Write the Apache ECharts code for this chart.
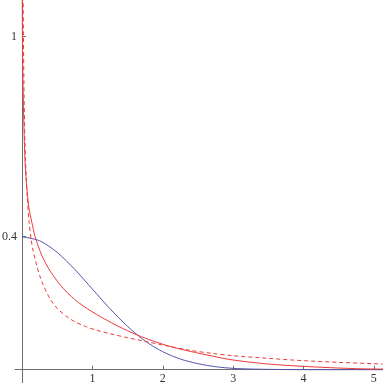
<!DOCTYPE html>
<html>
<head>
<meta charset="utf-8">
<script src="https://cdn.jsdelivr.net/npm/echarts@6/dist/echarts.min.js"></script>
<style>html,body{margin:0;padding:0;background:#fff;}#c{width:383px;height:383px;}</style>
</head>
<body>
<div id="c"></div>
<script>
// Tick labels
var xTicks = [1, 2, 3, 4, 5];
var yTicks = [0.4, 1];

// Blue curve
var blueX = [0, 0.25, 0.5, 0.75, 1, 1.25, 1.5, 1.75, 2, 2.25, 2.5, 2.75, 3, 3.25, 3.5, 4, 4.5, 5, 5.13];
var blueY = [0.399, 0.387, 0.352, 0.301, 0.242, 0.183, 0.130, 0.086, 0.054, 0.032, 0.018, 0.009, 0.004, 0.002, 0.001, 0.0, 0.0, 0.0, 0.0];

// Red solid curve
var redX = [0.002, 0.005, 0.01, 0.02, 0.035, 0.05, 0.075, 0.1, 0.14, 0.185, 0.23, 0.28, 0.34, 0.4, 0.5, 0.59, 0.7, 0.8, 0.93, 1.06, 1.2, 1.35, 1.5, 1.65, 1.85, 2.1, 2.39, 2.7, 3.0, 3.5, 4.0, 4.5, 5.0, 5.13];
var redY = [1.2, 1.03, 0.91, 0.79, 0.67, 0.595, 0.53, 0.483, 0.442, 0.40, 0.371, 0.344, 0.318, 0.296, 0.266, 0.243, 0.220, 0.202, 0.183, 0.166, 0.149, 0.132, 0.117, 0.103, 0.087, 0.070, 0.055, 0.041, 0.029, 0.017, 0.010, 0.005, 0.002, 0.002];

// Red dashed curve
var dashX = [0.008, 0.012, 0.02, 0.03, 0.04, 0.055, 0.075, 0.1, 0.13, 0.16, 0.2, 0.25, 0.3, 0.4, 0.5, 0.62, 0.75, 0.9, 1.05, 1.25, 1.5, 1.75, 2.0, 2.39, 2.7, 3.0, 3.5, 4.0, 4.5, 5.0, 5.13];
var dashY = [1.5, 1.28, 1.0, 0.81, 0.70, 0.60, 0.515, 0.445, 0.39, 0.355, 0.32, 0.283, 0.255, 0.212, 0.184, 0.162, 0.144, 0.13, 0.119, 0.108, 0.096, 0.085, 0.074, 0.058, 0.049, 0.042, 0.034, 0.027, 0.022, 0.018, 0.017];

function pairs(xs, ys) { return xs.map(function (x, i) { return [x, ys[i]]; }); }

var axisColor = '#6e6e6e';
var labelFont = {color: '#333', fontFamily: 'Liberation Serif', fontSize: 12};
var chart = echarts.init(document.getElementById('c'), null, {renderer: 'canvas'});
chart.setOption({
  animation: false,
  backgroundColor: '#ffffff',
  grid: {left: 15, right: 0, top: 0, bottom: 0, containLabel: false, outerBoundsMode: 'none'},
  xAxis: {
    type: 'value', min: -0.1, max: 5.13,
    axisLine: {onZero: true, lineStyle: {color: axisColor, width: 1}},
    axisTick: {show: true, inside: true, length: 4, customValues: xTicks, lineStyle: {color: axisColor}},
    axisLabel: Object.assign({show: true, customValues: xTicks, margin: -10}, labelFont),
    splitLine: {show: false}
  },
  yAxis: {
    type: 'value', min: -0.04, max: 1.11,
    axisLine: {show: true, onZero: true, lineStyle: {color: axisColor, width: 1}},
    axisTick: {show: true, inside: true, length: 4, customValues: yTicks, lineStyle: {color: axisColor}},
    axisLabel: Object.assign({show: true, customValues: yTicks, margin: -2,
      formatter: function (v) { return String(v); }}, labelFont),
    splitLine: {show: false}
  },
  series: [
    {type: 'line', data: pairs(blueX, blueY), showSymbol: false, smooth: 0.3, clip: true,
      lineStyle: {color: '#5555aa', width: 1}},
    {type: 'line', data: pairs(redX, redY), showSymbol: false, smooth: 0.3, clip: true,
      lineStyle: {color: '#f03a3a', width: 1}},
    {type: 'line', data: pairs(dashX, dashY), showSymbol: false, smooth: 0.3, clip: true,
      lineStyle: {color: '#f03a3a', width: 1, type: [4, 3]}}
  ]
});
</script>
</body>
</html>
